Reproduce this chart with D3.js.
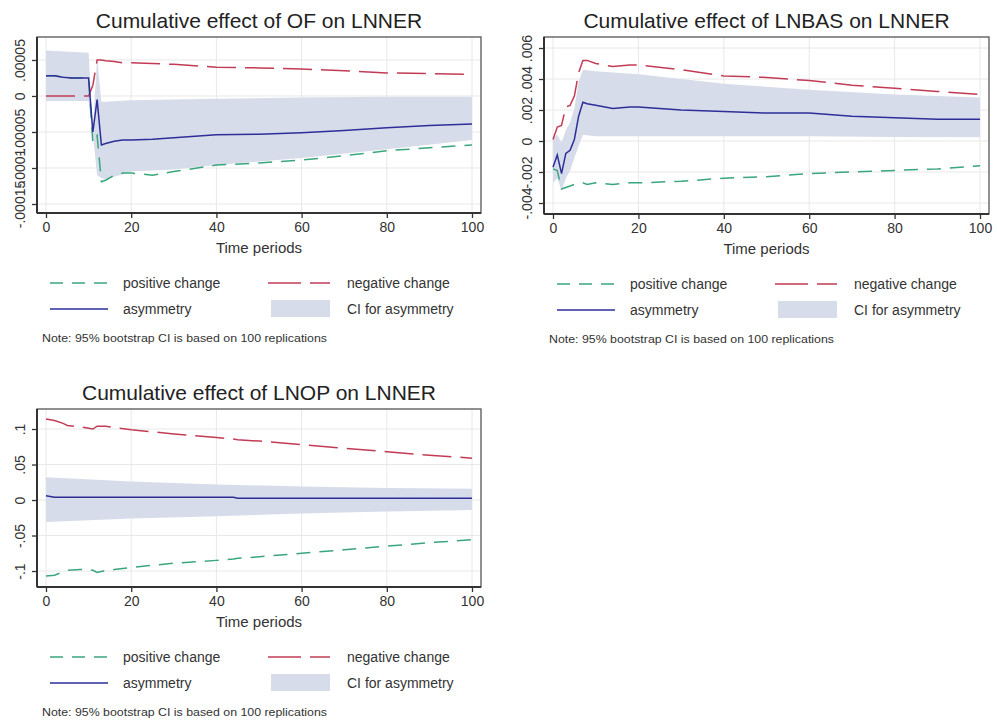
<!DOCTYPE html>
<html>
<head>
<meta charset="utf-8">
<script src="https://cdn.jsdelivr.net/npm/d3@7/dist/d3.min.js"></script>
<style>
  html, body { margin: 0; padding: 0; background: #fff; }
  svg { display: block; font-family: "Liberation Sans", Arial, sans-serif; }
</style>
</head>
<body>
<svg id="chart" width="997" height="721"></svg>
<script>
// ---------- data ----------
const xTicks = [0, 20, 40, 60, 80, 100];
const xTickLabels = ["0", "20", "40", "60", "80", "100"];

// Panel 1: OF -> LNNER
const titleOF = "Cumulative effect of OF on LNNER";
const periodsOF = [0, 2, 4, 6, 8, 10, 11, 12, 13, 14, 16, 18, 20, 25, 30, 40, 50, 60, 70, 80, 90, 100];
const posOF  = [2.8e-5, 2.8e-5, 2.6e-5, 2.5e-5, 2.5e-5, 2.5e-5, -6.5e-5, -5.5e-5, -11.9e-5, -11.7e-5, -11.0e-5, -10.7e-5, -10.7e-5, -11.0e-5, -10.5e-5, -9.6e-5, -9.3e-5, -8.9e-5, -8.3e-5, -7.6e-5, -7.2e-5, -6.8e-5];
const negOF  = [0, 0, 0, 0, 0, 0, 1.5e-5, 5.0e-5, 5.0e-5, 4.9e-5, 4.8e-5, 4.6e-5, 4.6e-5, 4.5e-5, 4.4e-5, 4.0e-5, 3.9e-5, 3.75e-5, 3.5e-5, 3.2e-5, 3.1e-5, 3.0e-5];
const asymOF = [2.8e-5, 2.8e-5, 2.6e-5, 2.5e-5, 2.5e-5, 2.5e-5, -5.0e-5, -0.5e-5, -6.8e-5, -6.6e-5, -6.3e-5, -6.1e-5, -6.1e-5, -6.0e-5, -5.8e-5, -5.4e-5, -5.3e-5, -5.1e-5, -4.8e-5, -4.4e-5, -4.1e-5, -3.9e-5];
const ciPeriodsOF = [0, 10, 11, 12, 13, 14, 20, 30, 40, 60, 80, 100];
const ciLoOF = [-0.7e-5, -0.7e-5, -5.3e-5, -11.0e-5, -11.4e-5, -11.6e-5, -10.5e-5, -10.2e-5, -9.6e-5, -8.6e-5, -7.4e-5, -6.1e-5];
const ciHiOF = [6.3e-5, 6.0e-5, -4.7e-5, 5.4e-5, -0.8e-5, -0.8e-5, -0.6e-5, -0.5e-5, -0.4e-5, -0.2e-5, -0.1e-5, -0.1e-5];
const yTicksOF = [-0.00015, -0.0001, -0.00005, 0, 0.00005];
const yTickLabelsOF = ["-.00015", "-.0001", "-.00005", "0", ".00005"];

// Panel 2: LNBAS -> LNNER
const titleBAS = "Cumulative effect of LNBAS on LNNER";
const periodsBAS = [0, 1, 2, 3, 4, 5, 6, 7, 8, 10, 14, 18, 20, 30, 40, 50, 60, 70, 80, 90, 100];
const posBAS  = [-0.0018, -0.0019, -0.0031, -0.0030, -0.0029, -0.0028, -0.0028, -0.0027, -0.0028, -0.0027, -0.0028, -0.0027, -0.0027, -0.0026, -0.0024, -0.0023, -0.0021, -0.0020, -0.0019, -0.0018, -0.0016];
const negBAS  = [0.0001, 0.0009, 0.0010, 0.0022, 0.0023, 0.0029, 0.0044, 0.0052, 0.0052, 0.0050, 0.0048, 0.0049, 0.0049, 0.0046, 0.0042, 0.0041, 0.0039, 0.0036, 0.0034, 0.0032, 0.0030];
const asymBAS = [-0.0017, -0.0009, -0.0021, -0.0008, -0.0006, 0.0001, 0.0016, 0.0025, 0.0024, 0.0023, 0.0021, 0.0022, 0.0022, 0.0020, 0.0019, 0.0018, 0.0018, 0.0016, 0.0015, 0.0014, 0.0014];
const ciPeriodsBAS = [0, 1, 2, 3, 4, 5, 6, 7, 10, 20, 30, 40, 60, 80, 100];
const ciLoBAS = [-0.0027, -0.0024, -0.0032, -0.0024, -0.0019, -0.0011, -0.0003, 0.0004, 0.0003, 0.0003, 0.0003, 0.0003, 0.0003, 0.00025, 0.00024];
const ciHiBAS = [0.0002, 0.0004, -0.0001, 0.0007, 0.0012, 0.0021, 0.0038, 0.0046, 0.0045, 0.0043, 0.0040, 0.0037, 0.0033, 0.0030, 0.0028];
const yTicksBAS = [-0.004, -0.002, 0, 0.002, 0.004, 0.006];
const yTickLabelsBAS = ["-.004", "-.002", "0", ".002", ".004", ".006"];

// Panel 3: LNOP -> LNNER
const titleOP = "Cumulative effect of LNOP on LNNER";
const periodsOP = [0, 2, 4, 5, 8, 10, 11, 12, 14, 16, 20, 25, 30, 40, 44, 45, 50, 60, 70, 80, 90, 100];
const posOP  = [-0.107, -0.106, -0.101, -0.099, -0.098, -0.098, -0.099, -0.102, -0.099, -0.098, -0.095, -0.092, -0.089, -0.085, -0.083, -0.082, -0.080, -0.075, -0.070, -0.065, -0.060, -0.056];
const negOP  = [0.114, 0.112, 0.108, 0.105, 0.103, 0.101, 0.100, 0.104, 0.104, 0.102, 0.099, 0.096, 0.093, 0.088, 0.086, 0.085, 0.083, 0.078, 0.073, 0.068, 0.063, 0.059];
const asymOP = [0.006, 0.004, 0.004, 0.004, 0.004, 0.004, 0.004, 0.004, 0.004, 0.004, 0.004, 0.004, 0.004, 0.004, 0.004, 0.0025, 0.0025, 0.0025, 0.0025, 0.0025, 0.0025, 0.0025];
const ciPeriodsOP = [0, 20, 40, 60, 80, 100];
const ciLoOP = [-0.031, -0.026, -0.023, -0.019, -0.016, -0.014];
const ciHiOP = [0.032, 0.026, 0.022, 0.019, 0.017, 0.016];
const yTicksOP = [-0.1, -0.05, 0, 0.05, 0.1];
const yTickLabelsOP = ["-.1", "-.05", "0", ".05", ".1"];

const legendLabels = ["positive change", "negative change", "asymmetry", "CI for asymmetry"];
const noteText = "Note: 95% bootstrap CI is based on 100 replications";
const xAxisTitle = "Time periods";

// ---------- styling ----------
const colPos = "#3aa67c";
const colNeg = "#c23b55";
const colAsym = "#2e2e98";
const colCI = "#d6dcea";
const colGrid = "#e8e8e8";
const dashPos = "14,9";
const dashNeg = "29,9";

const svg = d3.select("#chart");

function zip(periods, values) {
  return periods.map((p, i) => ({ x: p, y: values[i] }));
}

const panels = [
  {
    title: titleOF, frame: { l: 37, t: 37, r: 481, b: 213 }, yDomain: [-0.0001625, 0.0000819],
    periods: periodsOF, pos: posOF, neg: negOF, asym: asymOF,
    ciPeriods: ciPeriodsOF, ciLo: ciLoOF, ciHi: ciHiOF,
    yTicks: yTicksOF, yLabels: yTickLabelsOF
  },
  {
    title: titleBAS, frame: { l: 544, t: 37, r: 989, b: 214 }, yDomain: [-0.00471, 0.00671],
    periods: periodsBAS, pos: posBAS, neg: negBAS, asym: asymBAS,
    ciPeriods: ciPeriodsBAS, ciLo: ciLoBAS, ciHi: ciHiBAS,
    yTicks: yTicksBAS, yLabels: yTickLabelsBAS
  },
  {
    title: titleOP, frame: { l: 37, t: 409, r: 481, b: 587 }, yDomain: [-0.1225, 0.1282],
    periods: periodsOP, pos: posOP, neg: negOP, asym: asymOP,
    ciPeriods: ciPeriodsOP, ciLo: ciLoOP, ciHi: ciHiOP,
    yTicks: yTicksOP, yLabels: yTickLabelsOP
  }
];

panels.forEach(drawPanel);

function drawPanel(p) {
  const f = p.frame;
  const g = svg.append("g");
  const x = d3.scaleLinear().domain([0, 100]).range([f.l + 9, f.r - 9]);
  const y = d3.scaleLinear().domain(p.yDomain).range([f.b, f.t]);

  // title
  g.append("text")
    .attr("x", (f.l + f.r) / 2).attr("y", f.t - 9)
    .attr("text-anchor", "middle")
    .attr("font-size", 21).attr("fill", "#222")
    .text(p.title);

  // grid
  g.append("g").selectAll("line").data(xTicks).join("line")
    .attr("x1", d => x(d)).attr("x2", d => x(d))
    .attr("y1", f.t).attr("y2", f.b)
    .attr("stroke", colGrid).attr("stroke-width", 1);
  g.append("g").selectAll("line").data(p.yTicks).join("line")
    .attr("x1", f.l).attr("x2", f.r)
    .attr("y1", d => y(d)).attr("y2", d => y(d))
    .attr("stroke", colGrid).attr("stroke-width", 1);

  // CI band
  const ci = p.ciPeriods.map((t, i) => ({ x: t, lo: p.ciLo[i], hi: p.ciHi[i] }));
  g.append("path").datum(ci)
    .attr("d", d3.area().x(d => x(d.x)).y0(d => y(d.lo)).y1(d => y(d.hi)))
    .attr("fill", colCI).attr("stroke", "none");

  const line = d3.line().x(d => x(d.x)).y(d => y(d.y));
  g.append("path").datum(zip(p.periods, p.pos))
    .attr("d", line).attr("fill", "none")
    .attr("stroke", colPos).attr("stroke-width", 1.5).attr("stroke-dasharray", dashPos);
  g.append("path").datum(zip(p.periods, p.neg))
    .attr("d", line).attr("fill", "none")
    .attr("stroke", colNeg).attr("stroke-width", 1.5).attr("stroke-dasharray", dashNeg);
  g.append("path").datum(zip(p.periods, p.asym))
    .attr("d", line).attr("fill", "none")
    .attr("stroke", colAsym).attr("stroke-width", 1.5);

  // frame
  g.append("rect")
    .attr("x", f.l).attr("y", f.t).attr("width", f.r - f.l).attr("height", f.b - f.t)
    .attr("fill", "none").attr("stroke", "#555").attr("stroke-width", 1.3);

  // x axis
  const xAxis = d3.axisBottom(x).tickValues(xTicks)
    .tickFormat((d, i) => xTickLabels[i]).tickSize(5).tickPadding(4);
  const xg = g.append("g").attr("transform", `translate(0,${f.b})`).call(xAxis);
  xg.select(".domain").attr("d", `M${f.l},0H${f.r}`).attr("stroke", "#333").attr("stroke-width", 2);
  xg.selectAll(".tick line").attr("stroke", "#333").attr("stroke-width", 1.3);
  xg.selectAll(".tick text")
    .attr("font-size", 14).attr("fill", "#333")
    .attr("font-family", "Liberation Sans, Arial, sans-serif");

  g.append("text")
    .attr("x", (f.l + f.r) / 2).attr("y", f.b + 40)
    .attr("text-anchor", "middle").attr("font-size", 15).attr("fill", "#333")
    .text(xAxisTitle);

  // y axis
  const yAxis = d3.axisLeft(y).tickValues(p.yTicks)
    .tickFormat((d, i) => p.yLabels[i]).tickSize(5).tickPadding(0);
  const yg = g.append("g").attr("transform", `translate(${f.l},0)`).call(yAxis);
  yg.select(".domain").attr("d", `M0,${f.t}V${f.b}`).attr("stroke", "#333").attr("stroke-width", 2);
  yg.selectAll(".tick line").attr("stroke", "#333").attr("stroke-width", 1.3);
  yg.selectAll(".tick text")
    .attr("font-size", 14).attr("fill", "#333")
    .attr("font-family", "Liberation Sans, Arial, sans-serif")
    .attr("x", null).attr("dy", null)
    .attr("text-anchor", "middle")
    .attr("transform", "translate(-12,0) rotate(-90)");

  // legend
  const lg = g.append("g");
  const r1 = f.b + 70, r2 = f.b + 96;
  lg.append("line").attr("x1", f.l + 13).attr("x2", f.l + 71).attr("y1", r1).attr("y2", r1)
    .attr("stroke", colPos).attr("stroke-width", 1.5).attr("stroke-dasharray", "13,9");
  lg.append("line").attr("x1", f.l + 231).attr("x2", f.l + 293).attr("y1", r1).attr("y2", r1)
    .attr("stroke", colNeg).attr("stroke-width", 1.5).attr("stroke-dasharray", "33,9");
  lg.append("line").attr("x1", f.l + 13).attr("x2", f.l + 71).attr("y1", r2).attr("y2", r2)
    .attr("stroke", colAsym).attr("stroke-width", 1.5);
  lg.append("rect").attr("x", f.l + 234).attr("y", r2 - 9).attr("width", 59).attr("height", 17)
    .attr("fill", colCI);
  const lx = [f.l + 86, f.l + 310, f.l + 86, f.l + 310];
  const ly = [r1 + 5, r1 + 5, r2 + 5, r2 + 5];
  lg.selectAll("text.lbl").data(legendLabels).join("text")
    .attr("class", "lbl")
    .attr("x", (d, i) => lx[i]).attr("y", (d, i) => ly[i])
    .attr("font-size", 14).attr("fill", "#333")
    .text(d => d);
  lg.append("text")
    .attr("x", f.l + 5).attr("y", f.b + 129)
    .attr("font-size", 11.5).attr("fill", "#333")
    .attr("textLength", 285).attr("lengthAdjust", "spacingAndGlyphs")
    .text(noteText);
}
</script>
</body>
</html>
